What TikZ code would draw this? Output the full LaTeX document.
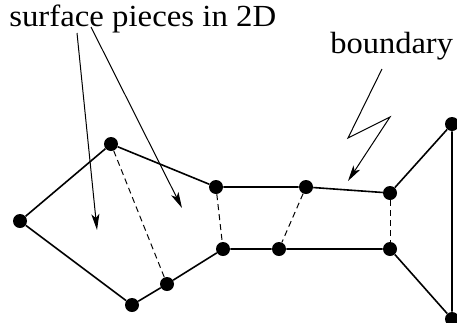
\documentclass[tikz,border=0pt]{standalone}
\usepackage{fontspec}
\setmainfont{Liberation Serif}
\usepackage{tikz}
\usetikzlibrary{arrows.meta}

\begin{document}
\begin{tikzpicture}[x=0.75pt,y=-0.75pt,>={Stealth[length=12pt,width=6pt,inset=3pt]},
		font=\fontsize{23}{27}\selectfont]
		\tikzstyle{vertex}=[circle,fill=black,inner sep=0pt,minimum size=10.5pt]
		\tikzstyle{outline}=[line width=1.2pt]
		\tikzstyle{cut}=[line width=0.75pt,dash pattern=on 4.5pt off 3pt]
		\tikzstyle{pointer}=[->,line width=0.75pt]
		\useasboundingbox (0,0) rectangle (457,322);
		\node[anchor=base west,inner sep=0pt] (lblS) at (9,26) {\scalebox{1.07}[1]{surface pieces in 2D}};
		\node[anchor=base west,inner sep=0pt] (lblB) at (330,53) {\scalebox{1.06}[1]{boundary}};
		\node[vertex] (A) at (20,221) {};
		\node[vertex] (B) at (111,144) {};
		\node[vertex] (C) at (132,305) {};
		\node[vertex] (D) at (167,284) {};
		\node[vertex] (E) at (223,249) {};
		\node[vertex] (F) at (216,187) {};
		\node[vertex] (G) at (306,187) {};
		\node[vertex] (H) at (390,193) {};
		\node[vertex] (I) at (279,249) {};
		\node[vertex] (J) at (390,249) {};
		\node[vertex] (K) at (452,319) {};
		\node[vertex] (L) at (452,124) {};
		\coordinate (s1) at (77,33);
		\coordinate (t1) at (97,230);
		\coordinate (s2) at (91,27);
		\coordinate (t2) at (182,208);
		\coordinate (z0) at (382,69);
		\coordinate (z1) at (348,138);
		\coordinate (z2) at (390,117);
		\coordinate (z3) at (348,181);
		% outer boundary
		\draw[outline] (A) -- (B) -- (F) -- (G) -- (H) -- (L) -- (K) -- (J) -- (I) -- (E) -- (D) -- (C) -- (A);
		% cuts between pieces
		\path[cut] (B) edge (D)
			(F) edge (E)
			(G) edge (I)
			(H) edge (J);
		\draw[pointer] (s1) -- (t1);
		\draw[pointer] (s2) -- (t2);
		\draw[pointer] (z0) -- (z1) -- (z2) -- (z3);
\end{tikzpicture}
\end{document}
